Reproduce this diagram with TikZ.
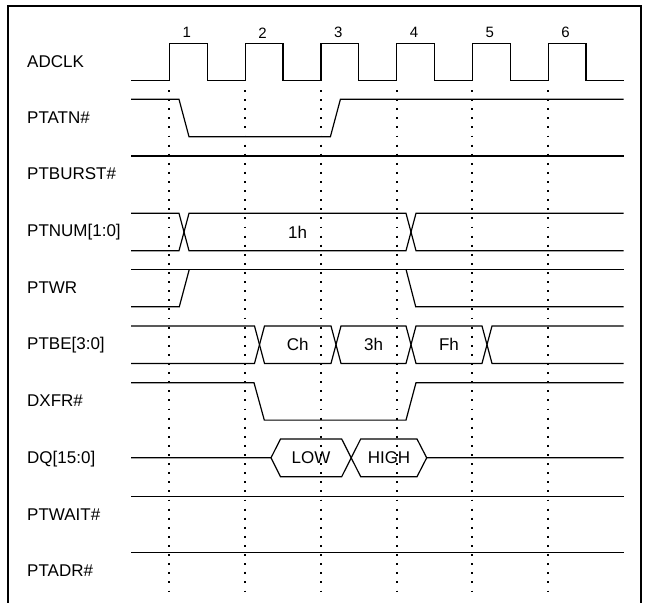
\documentclass[tikz,border=0pt]{standalone}
\usepackage{fontspec}
\setmainfont{Liberation Sans}
\begin{document}
\begin{tikzpicture}[x=1pt,y=-1pt,
  sig/.style={line width=1.2pt, line join=miter},
  gridline/.style={line width=1.9pt, dash pattern=on 1.9pt off 7.2pt},
  lbl/.style={anchor=base west, inner sep=0pt, font=\fontsize{17}{20}\selectfont},
  val/.style={inner sep=0pt, font=\fontsize{17}{20}\selectfont},
  num/.style={inner sep=0pt, font=\fontsize{15}{18}\selectfont}]
\useasboundingbox (0,0) rectangle (646,603);
% frame
\draw[line width=2pt] (8,604) -- (8,6) -- (641,6) -- (641,604);
% dotted clock guides
\foreach \i in {0,...,5}
  \draw[gridline] ({169.4+75.75*\i},90) -- ({169.4+75.75*\i},592);
% clock numbers
\foreach \i [count=\n from 1] in {0,...,5}
  \node[num] (n\n) at ({186.9+75.75*\i},32.8) {\n};
% labels
\node[lbl] (lclk)  at (27,67.1)  {ADCLK};
\node[lbl] (latn)  at (27,123.1) {PTATN\#};
\node[lbl] (lbur)  at (27,179.8) {PTBURST\#};
\node[lbl] (lnum)  at (27,236.6) {PTNUM[1:0]};
\node[lbl] (lwr)   at (27,293.1) {PTWR};
\node[lbl] (lbe)   at (27,349.8) {PTBE[3:0]};
\node[lbl] (lxfr)  at (27,406.5) {DXFR\#};
\node[lbl] (ldq)   at (27,463.6) {DQ[15:0]};
\node[lbl] (lwait) at (27,520.5) {PTWAIT\#};
\node[lbl] (ladr)  at (27,576.5) {PTADR\#};
% ADCLK
\draw[sig] (131,80.7) -- (169.4,80.7) -- (169.4,43.3) -- (207.3,43.3) -- (207.3,80.7)
  -- (245.15,80.7) -- (245.15,43.3) -- (283.0,43.3) -- (283.0,80.7)
  -- (320.9,80.7) -- (320.9,43.3) -- (358.8,43.3) -- (358.8,80.7)
  -- (396.65,80.7) -- (396.65,43.3) -- (434.5,43.3) -- (434.5,80.7)
  -- (472.4,80.7) -- (472.4,43.3) -- (510.3,43.3) -- (510.3,80.7)
  -- (548.15,80.7) -- (548.15,43.3) -- (586.0,43.3) -- (586.0,80.7) -- (623.7,80.7);
% PTATN#
\draw[sig] (131,99.3) -- (179,99.3) -- (189,136.7) -- (330.4,136.7) -- (340.4,99.3) -- (623.7,99.3);
% PTBURST#
\draw[sig] (131,156) -- (623.7,156);
% PTNUM[1:0]
\draw[sig] (131,213.3) -- (179,213.3) -- (189,250.7) -- (406,250.7) -- (416,213.3) -- (623.7,213.3);
\draw[sig] (131,250.7) -- (179,250.7) -- (189,213.3) -- (406,213.3) -- (416,250.7) -- (623.7,250.7);
\node[val] (v1h) at (297.7,232) {1h};
% PTWR
\draw[sig] (131,269.3) -- (623.7,269.3);
\draw[sig] (131,306.7) -- (179.3,306.7) -- (189.3,269.3);
\draw[sig] (406,269.3) -- (415.7,306.7) -- (623.7,306.7);
% PTBE[3:0]
\draw[sig] (131,326) -- (254.5,326) -- (264.5,363.4) -- (331,363.4) -- (341,326) -- (406,326)
  -- (416,363.4) -- (482,363.4) -- (492,326) -- (623.7,326);
\draw[sig] (131,363.4) -- (254.5,363.4) -- (264.5,326) -- (331,326) -- (341,363.4) -- (406,363.4)
  -- (416,326) -- (482,326) -- (492,363.4) -- (623.7,363.4);
\node[val] (vch) at (297.7,344.7) {Ch};
\node[val] (v3h) at (373.5,344.7) {3h};
\node[val] (vfh) at (449,344.7) {Fh};
% DXFR#
\draw[sig] (131,382.7) -- (254,382.7) -- (264.3,420.1) -- (406,420.1) -- (416,382.7) -- (623.7,382.7);
% DQ[15:0]
\draw[sig] (131,457.8) -- (271,457.8) -- (280.5,439) -- (341.7,439) -- (360.7,476.7) -- (417,476.7)
  -- (426.7,457.8) -- (623.7,457.8);
\draw[sig] (271,457.8) -- (280.5,476.7) -- (341.7,476.7) -- (360.7,439) -- (417,439) -- (426.7,457.8);
\node[val] (vlow) at (311,457.8) {LOW};
\node[val] (vhigh) at (389,457.8) {HIGH};
% PTWAIT#, PTADR#
\draw[sig] (131,496.7) -- (623.7,496.7);
\draw[sig] (131,552.7) -- (623.7,552.7);
\end{tikzpicture}
\end{document}
